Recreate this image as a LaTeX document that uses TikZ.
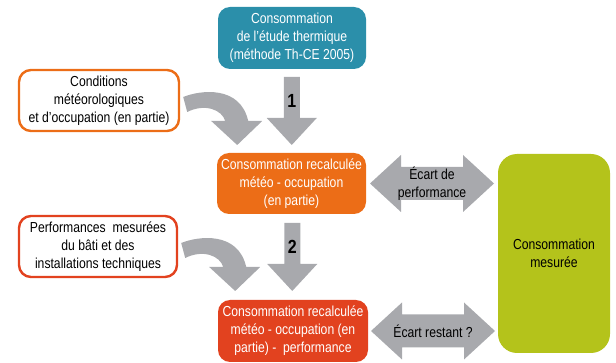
\documentclass[tikz,border=0pt]{standalone}
\usepackage{fontspec}
\setmainfont[FakeStretch=0.84]{Liberation Sans}
\usetikzlibrary{calc}

\definecolor{etudebleu}{HTML}{2B8FAA}
\definecolor{meteoorange}{HTML}{EC6D17}
\definecolor{perfrouge}{HTML}{E2421F}
\definecolor{mesvert}{HTML}{B4C31B}
\definecolor{flechegris}{HTML}{A8A9AD}

\newcommand{\lab}{\fontsize{14.5}{18}\selectfont}
% fleche courbe, relative au bord droit d'un cadre
\newcommand{\courbe}[1]{%
  \fill[flechegris, shift={(#1)}] (3,-3.5) .. controls (20,-10.5) and (60,-15.5) .. (68,20.5)
    -- (82,20.5) -- (57,44.5) -- (31,20.5) -- (45,20.5)
    .. controls (42,9.5) and (25,2.5) .. (7,11.5) -- cycle;}
% fleche vers le bas, entre deux cadres
\newcommand{\flechebas}[2]{%
  \fill[flechegris, shift={($(#1)!0.5!(#2)$)}] (-8,-34) -- (8,-34) -- (8,7) -- (25,7)
    -- (0,34) -- (-25,7) -- (-8,7) -- cycle;}
% double fleche autour d'une coordonnee
\newcommand{\ecart}[1]{%
  \fill[flechegris, shift={(#1)}] (-62,0) -- (-31,-28.5) -- (-31,-16.5) -- (31,-16.5)
    -- (31,-28.5) -- (62,0) -- (31,28.5) -- (31,16.5) -- (-31,16.5) -- (-31,28.5) -- cycle;}

\tikzset{
  cadre/.style={rounded corners=12pt, align=center, font=\lab, inner sep=2pt},
  plein/.style={cadre, text=white},
  contour/.style={cadre, draw, line width=2.4pt, fill=white, text=black},
  chiffre/.style={font=\fontsize{19}{20}\selectfont\bfseries},
}

\begin{document}
\begin{tikzpicture}[x=1pt, y=-1pt]
  \useasboundingbox (0,0) rectangle (616,363);

  % cadres
  \node[plein, fill=etudebleu, minimum width=148, minimum height=62] (etude) at (292,38)
    {Consommation\\de l'étude thermique\\(méthode Th-CE 2005)};
  \node[contour, draw=meteoorange, minimum width=160, minimum height=61] (cond) at (99,100.5)
    {Conditions\\météorologiques\\et d'occupation (en partie)};
  \node[plein, fill=meteoorange, minimum width=149, minimum height=61] (meteo) at (291.5,183.5)
    {Consommation recalculée\\météo - occupation\\(en partie)};
  \node[contour, draw=perfrouge, minimum width=158, minimum height=61] (perf) at (98,246.5)
    {Performances~ mesurées\\du bâti et des\\installations techniques};
  \node[plein, fill=perfrouge, minimum width=150, minimum height=62] (final) at (293,331)
    {Consommation recalculée\\météo - occupation (en\\partie) -~ performance};
  \node[cadre, rounded corners=19pt, fill=mesvert, minimum width=112, minimum height=199] (mesure) at (554,253.5)
    {Consommation\\mesurée};

  % fleches verticales
  \flechebas{etude.south}{meteo.north}
  \node[chiffre] (n1) at ($(etude.south)!0.5!(meteo.north)+(0,-10)$) {1};
  \flechebas{meteo.south}{final.north}
  \node[chiffre] (n2) at ($(meteo.south)!0.5!(final.north)+(0,-10)$) {2};

  % fleches courbes
  \courbe{cond.east}
  \courbe{perf.east}

  % ecarts
  \coordinate (e1) at ($(meteo.east)!0.5!(meteo.east -| mesure.west)$);
  \ecart{e1}
  \node[align=center, font=\lab] (t1) at (e1) {Écart de\\performance};
  \coordinate (e2) at ($(final.east)!0.5!(final.east -| mesure.west)$);
  \ecart{e2}
  \node[font=\lab] (t2) at (e2) {Écart restant ?};
\end{tikzpicture}
\end{document}
